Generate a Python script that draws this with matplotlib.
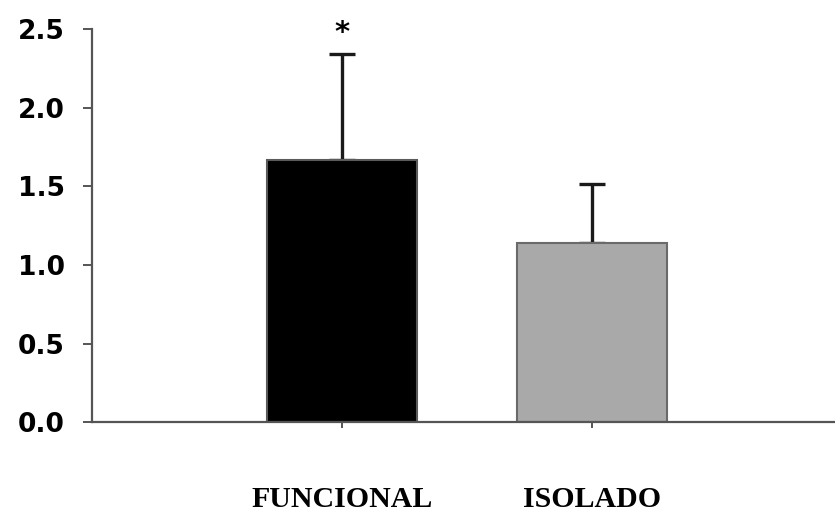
import numpy as np
from matplotlib import pyplot as plt

# values
groups = ['FUNCIONAL', 'ISOLADO']
means = [1.667, 1.137]
errs = [0.678, 0.381]
colors = ['#000000', '#a9a9a9']
edges = ['#5a5a5a', '#6a6a6a']
yticks = [0.0, 0.5, 1.0, 1.5, 2.0, 2.5]

fig = plt.figure(figsize=(8.35, 5.13), dpi=100)
ax = fig.add_axes([0.110, 0.177, 0.890, 0.766])

x = np.arange(len(groups))
ax.bar(x, means, width=0.6, color=colors, edgecolor=edges, linewidth=1.5, zorder=2)
ax.errorbar(x, means, yerr=[np.zeros(len(errs)), errs], fmt='none',
            ecolor='#1a1a1a', elinewidth=2.4, capsize=9.5, capthick=2.4, zorder=1)

# significance marker above the first bar
ax.annotate('*', xy=(x[0], means[0] + errs[0]), xytext=(0, 15),
            textcoords='offset points', ha='center', va='center',
            fontsize=21, fontweight='bold', annotation_clip=False)

ax.set_xlim(-1.0, 1.97)
ax.set_ylim(0, 2.5)
ax.set_yticks(yticks)
ax.set_yticklabels(['%.1f' % v for v in yticks], fontsize=19, fontweight='heavy',
                   family='DejaVu Sans')
ax.set_xticks(x)
ax.set_xticklabels(groups, fontsize=21.5, fontweight='bold', family='Liberation Serif')

for s in ['top', 'right']:
    ax.spines[s].set_visible(False)
for s in ['left', 'bottom']:
    ax.spines[s].set_color('#555555')
    ax.spines[s].set_linewidth(1.6)

ax.tick_params(axis='y', direction='out', length=6.5, width=1.4, color='#555555', pad=13)
ax.tick_params(axis='x', direction='out', length=4, width=1.4, color='#555555', pad=42)

plt.savefig('out.png', dpi=100)
